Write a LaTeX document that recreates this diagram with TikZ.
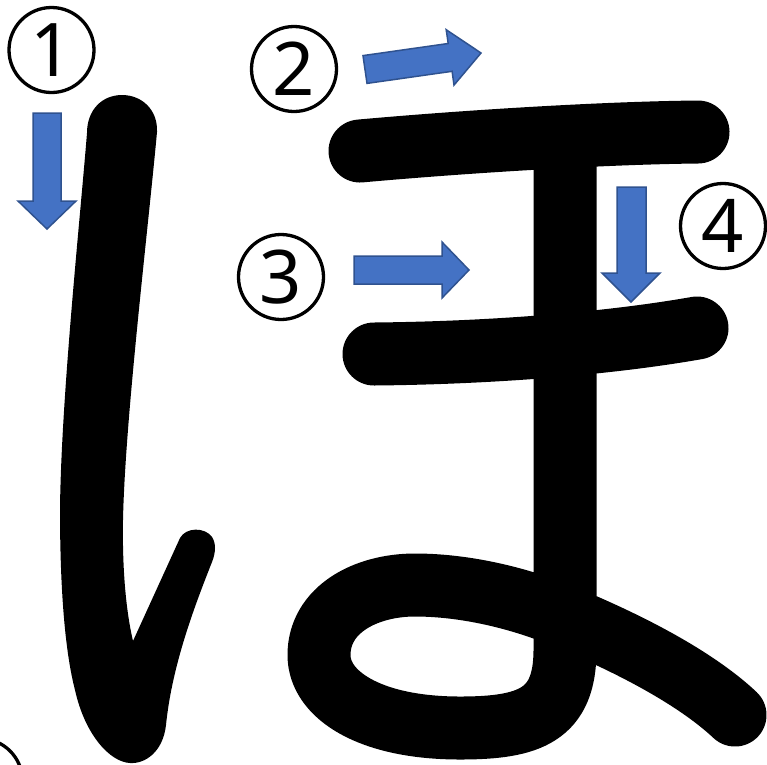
\documentclass[tikz,border=0pt]{standalone}
\usepackage{fontspec}
\setmainfont{Noto Sans}
\definecolor{arrowfill}{HTML}{4472C4}
\definecolor{arrowline}{HTML}{2F528F}
\begin{document}
\begin{tikzpicture}[x=1pt,y=-1pt,
  inkstroke/.style={line width=63pt, line cap=round, line join=round},
  bluearrow/.style={fill=arrowfill, draw=arrowline, line width=1.5pt, line join=miter},
  numcircle/.style={circle, draw, line width=3.3pt, minimum size=85pt, inner sep=0pt, font=\fontsize{74}{74}\selectfont}]
\useasboundingbox (0,0) rectangle (767,764);
\clip (0,0) rectangle (767,764);
% left stroke of ha (with hook)
\fill (87,133) .. controls (87,110) and (102,95) .. (122,95)
  .. controls (142,95) and (158,110) .. (157,132)
  .. controls (148,230) and (125,420) .. (123,520)
  .. controls (122,580) and (128,620) .. (133,641)
  -- (180,538) .. controls (186,527) and (205,527) .. (212,537)
  .. controls (216,543) and (216,552) .. (212,562)
  .. controls (195,605) and (172,665) .. (166,725)
  .. controls (163,752) and (145,764) .. (130,763)
  .. controls (110,762) and (85,735) .. (75,690)
  .. controls (62,640) and (60,560) .. (60,510)
  .. controls (61,400) and (80,220) .. (87,133) -- cycle;
% top bar
\draw[inkstroke] (360,151) .. controls (460,142) and (600,133) .. (698,132);
% middle bar
\draw[inkstroke] (374,354) .. controls (480,353) and (600,345) .. (697,328);
% vertical with loop
\draw[inkstroke] (565,150) -- (565,650)
  .. controls (565,715) and (530,728) .. (460,728)
  .. controls (370,728) and (319,695) .. (319,655)
  .. controls (319,610) and (365,585) .. (415,585)
  .. controls (465,585) and (520,598) .. (565,617)
  .. controls (640,648) and (700,682) .. (735,715);
% arrows
\draw[bluearrow] (33,113) -- (61,113) -- (61,201) -- (76,201) -- (47,229) -- (18,201) -- (33,201) -- cycle;
\draw[bluearrow] (363.0,55.6) -- (448.2,43.5) -- (446.2,29.7) -- (481,53) -- (454.0,85.1) -- (452.1,71.3) -- (367.0,83.4) -- cycle;
\draw[bluearrow] (354,256) -- (442,256) -- (442,242) -- (469,270) -- (442,298) -- (442,284) -- (354,284) -- cycle;
\draw[bluearrow] (617,187) -- (646,187) -- (646,273) -- (660,273) -- (631,302) -- (602,273) -- (617,273) -- cycle;
% numbers
\node[numcircle] (n1) at (51.5,50) {1};
\node[numcircle] (n2) at (294,69) {2};
\node[numcircle] (n3) at (281,277) {3};
\node[numcircle] (n4) at (723,226) {4};
\draw[line width=3.3pt] (-20,781) circle[radius=42.5];
\end{tikzpicture}
\end{document}
